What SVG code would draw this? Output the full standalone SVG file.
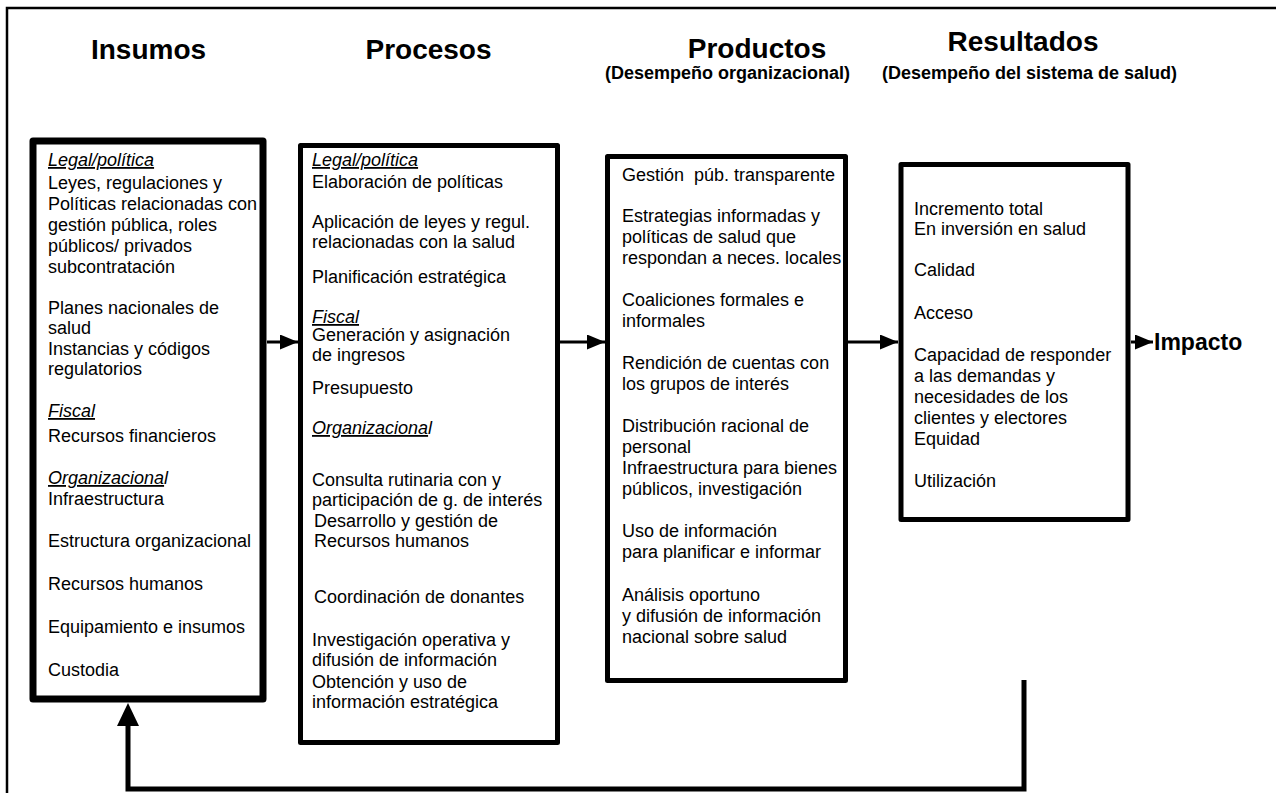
<svg xmlns="http://www.w3.org/2000/svg" width="1276" height="793" viewBox="0 0 1276 793">
<defs>
<style>
text{font-family:"Liberation Sans",Arial,sans-serif;fill:#000}
.h{font-size:28px;font-weight:bold;text-anchor:middle}
.s{font-size:18px;font-weight:bold}
.b{font-size:18px;white-space:pre}
.u{font-style:italic;text-decoration:underline}
.i{font-style:italic}
.box{fill:#fff;stroke:#000;stroke-linejoin:round}
.con{fill:none;stroke:#000}
</style>
<marker id="ah" viewBox="0 0 18 15" refX="18" refY="7.5" markerWidth="18" markerHeight="15" markerUnits="userSpaceOnUse" orient="auto">
<path d="M0,0 L18,7.5 L0,15 Z" fill="#000"/>
</marker>
</defs>
<rect x="0" y="0" width="1276" height="793" fill="#fff"/>
<path d="M7,793 V8 H1276" fill="none" stroke="#000" stroke-width="2.5"/>

<g id="headers">
<text class="h" x="148.5" y="59">Insumos</text>
<text class="h" x="428.5" y="59">Procesos</text>
<text class="h" x="757" y="58">Productos</text>
<text class="h" x="1023" y="51">Resultados</text>
<text class="s" x="850" y="79" text-anchor="end">(Desempeño organizacional)</text>
<text class="s" x="882" y="79">(Desempeño del sistema de salud)</text>
</g>

<g id="insumos">
<rect class="box" x="33" y="141" width="230" height="558" stroke-width="7"/>
<text class="b" x="48" y="166"><tspan class="u">Legal/política</tspan></text>
<text class="b" x="48" y="189">Leyes, regulaciones y</text>
<text class="b" x="48" y="210">Políticas relacionadas con</text>
<text class="b" x="48" y="231">gestión pública, roles</text>
<text class="b" x="48" y="252">públicos/ privados</text>
<text class="b" x="48" y="273">subcontratación</text>
<text class="b" x="48" y="314">Planes nacionales de</text>
<text class="b" x="48" y="334">salud</text>
<text class="b" x="48" y="355">Instancias y códigos</text>
<text class="b" x="48" y="375">regulatorios</text>
<text class="b" x="48" y="417"><tspan class="u">Fiscal</tspan></text>
<text class="b" x="48" y="442">Recursos financieros</text>
<text class="b" x="48" y="484"><tspan class="u">Organizaciona</tspan><tspan class="i">l</tspan></text>
<text class="b" x="48" y="505">Infraestructura</text>
<text class="b" x="48" y="547">Estructura organizacional</text>
<text class="b" x="48" y="590">Recursos humanos</text>
<text class="b" x="48" y="633">Equipamiento e insumos</text>
<text class="b" x="48" y="676">Custodia</text>
</g>

<g id="procesos">
<rect class="box" x="300.5" y="145.5" width="257" height="597" stroke-width="5"/>
<text class="b" x="312" y="166"><tspan class="u">Legal/política</tspan></text>
<text class="b" x="312" y="188">Elaboración de políticas</text>
<text class="b" x="312" y="228">Aplicación de leyes y regul.</text>
<text class="b" x="312" y="248">relacionadas con la salud</text>
<text class="b" x="312" y="283">Planificación estratégica</text>
<text class="b" x="312" y="323"><tspan class="u">Fiscal</tspan></text>
<text class="b" x="312" y="341">Generación y asignación</text>
<text class="b" x="312" y="361">de ingresos</text>
<text class="b" x="312" y="394">Presupuesto</text>
<text class="b" x="312" y="434"><tspan class="u">Organizaciona</tspan><tspan class="i">l</tspan></text>
<text class="b" x="312" y="486">Consulta rutinaria con y</text>
<text class="b" x="312" y="506">participación de g. de interés</text>
<text class="b" x="314" y="527">Desarrollo y gestión de</text>
<text class="b" x="314" y="547">Recursos humanos</text>
<text class="b" x="314" y="603">Coordinación de donantes</text>
<text class="b" x="312" y="646">Investigación operativa y</text>
<text class="b" x="312" y="666">difusión de información</text>
<text class="b" x="312" y="688">Obtención y uso de</text>
<text class="b" x="312" y="708">información estratégica</text>
</g>

<g id="productos">
<rect class="box" x="607.5" y="156.5" width="238" height="524" stroke-width="5"/>
<text class="b" x="622" y="181">Gestión  púb. transparente</text>
<text class="b" x="622" y="222">Estrategias informadas y</text>
<text class="b" x="622" y="243">políticas de salud que</text>
<text class="b" x="622" y="264">respondan a neces. locales</text>
<text class="b" x="622" y="306">Coaliciones formales e</text>
<text class="b" x="622" y="327">informales</text>
<text class="b" x="622" y="369">Rendición de cuentas con</text>
<text class="b" x="622" y="390">los grupos de interés</text>
<text class="b" x="622" y="432">Distribución racional de</text>
<text class="b" x="622" y="453">personal</text>
<text class="b" x="622" y="474">Infraestructura para bienes</text>
<text class="b" x="622" y="495">públicos, investigación</text>
<text class="b" x="622" y="537">Uso de información</text>
<text class="b" x="622" y="558">para planificar e informar</text>
<text class="b" x="622" y="601">Análisis oportuno</text>
<text class="b" x="622" y="622">y difusión de información</text>
<text class="b" x="622" y="643">nacional sobre salud</text>
</g>

<g id="resultados">
<rect class="box" x="901" y="164.5" width="227" height="355" stroke-width="5"/>
<text class="b" x="914" y="215">Incremento total</text>
<text class="b" x="914" y="235">En inversión en salud</text>
<text class="b" x="914" y="276">Calidad</text>
<text class="b" x="914" y="319">Acceso</text>
<text class="b" x="914" y="361">Capacidad de responder</text>
<text class="b" x="914" y="382">a las demandas y</text>
<text class="b" x="914" y="403">necesidades de los</text>
<text class="b" x="914" y="424">clientes y electores</text>
<text class="b" x="914" y="445">Equidad</text>
<text class="b" x="914" y="487">Utilización</text>
</g>

<g id="impacto">
<text x="1154" y="350" style="font-size:23px;font-weight:bold">Impacto</text>
</g>

<g id="connectors">
<line class="con" x1="267" y1="342" x2="298" y2="342" stroke-width="3" marker-end="url(#ah)"/>
<line class="con" x1="560" y1="342" x2="605" y2="342" stroke-width="3" marker-end="url(#ah)"/>
<line class="con" x1="848" y1="342" x2="898" y2="342" stroke-width="3" marker-end="url(#ah)"/>
<line class="con" x1="1131" y1="342" x2="1153" y2="342" stroke-width="3" marker-end="url(#ah)"/>
<path class="con" d="M1024,680 V789 H128 V724" stroke-width="5"/>
<path d="M128,703 L117,726 L139,726 Z" fill="#000"/>
</g>
</svg>
